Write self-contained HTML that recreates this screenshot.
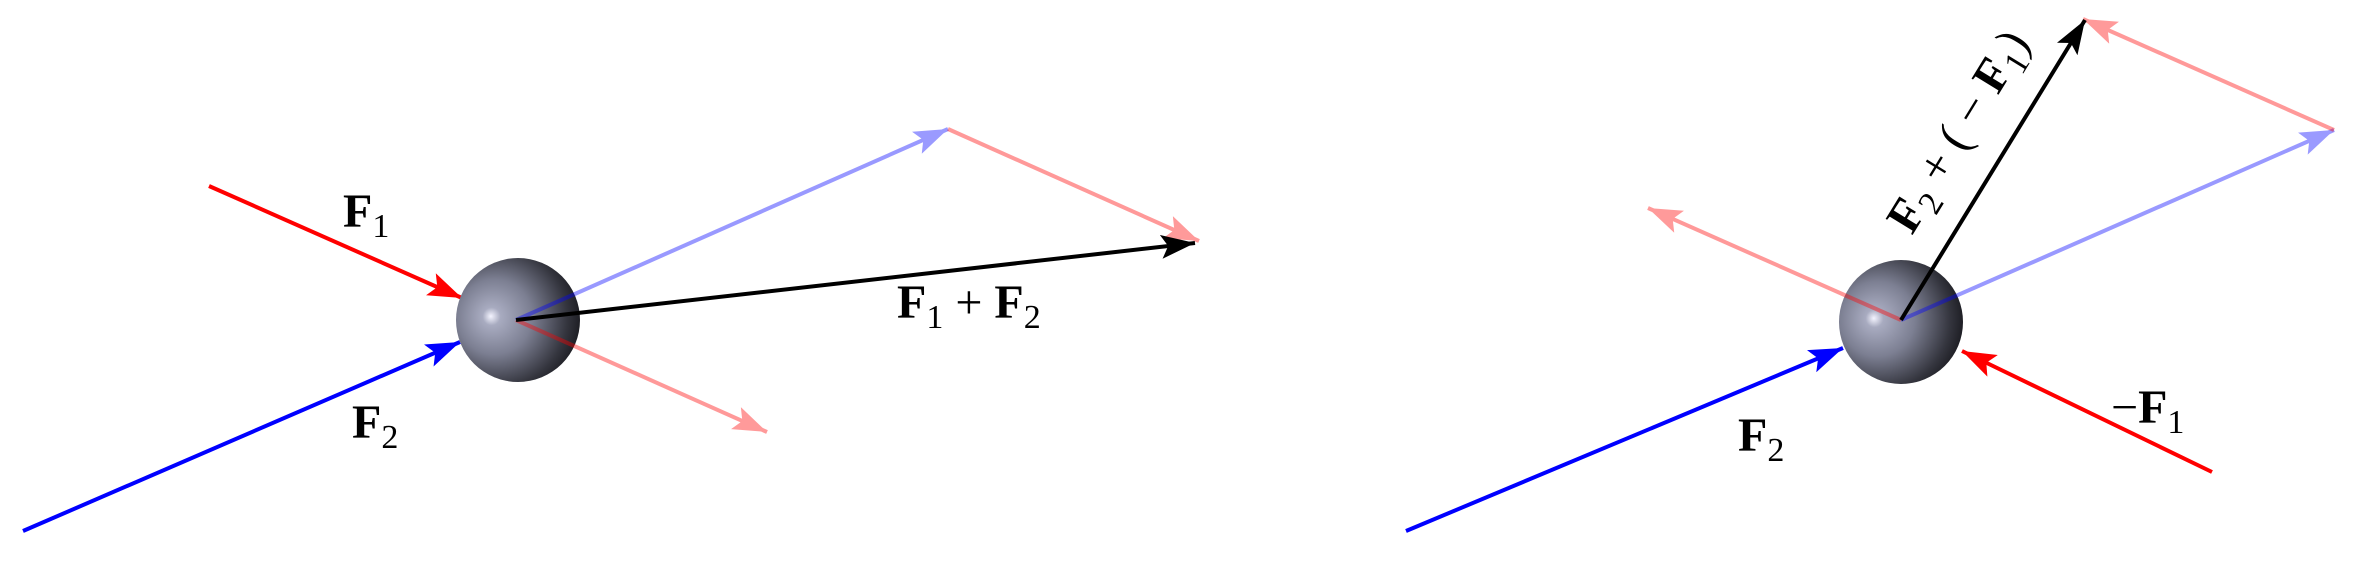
<!DOCTYPE html>
<html><head><meta charset="utf-8"><style>
html,body{margin:0;padding:0;background:#fff;}
svg{display:block;}
text{font-family:"Liberation Serif",serif;fill:#000;}
.b{font-weight:bold;}
</style></head><body>
<svg width="2358" height="564" viewBox="0 0 2358 564" xmlns="http://www.w3.org/2000/svg">
<defs>
<radialGradient id="sph" cx="0.35" cy="0.48" r="0.72" fx="0.28" fy="0.47">
<stop offset="0" stop-color="#f4f4ff"/>
<stop offset="0.1" stop-color="#a8abc0"/>
<stop offset="0.42" stop-color="#7c7f92"/>
<stop offset="0.78" stop-color="#34353e"/>
<stop offset="1" stop-color="#101014"/>
</radialGradient>
<marker id="mr" markerUnits="userSpaceOnUse" markerWidth="36" markerHeight="26" refX="34" refY="13" orient="auto"><path d="M0,1 L34,13 L0,25 L7,13 Z" fill="#ff0000"/></marker>
<marker id="mb" markerUnits="userSpaceOnUse" markerWidth="36" markerHeight="26" refX="34" refY="13" orient="auto"><path d="M0,1 L34,13 L0,25 L7,13 Z" fill="#0000ff"/></marker>
<marker id="mk" markerUnits="userSpaceOnUse" markerWidth="36" markerHeight="26" refX="34" refY="13" orient="auto"><path d="M0,1 L34,13 L0,25 L7,13 Z" fill="#000"/></marker>
<marker id="mp" markerUnits="userSpaceOnUse" markerWidth="36" markerHeight="26" refX="34" refY="13" orient="auto"><path d="M0,1 L34,13 L0,25 L7,13 Z" fill="#ff9a9a"/></marker>
<marker id="ml" markerUnits="userSpaceOnUse" markerWidth="36" markerHeight="26" refX="34" refY="13" orient="auto"><path d="M0,1 L34,13 L0,25 L7,13 Z" fill="#9a9aff"/></marker>
</defs>

<!-- LEFT -->
<line x1="209" y1="186" x2="462" y2="298" stroke="#ff0000" stroke-width="4" marker-end="url(#mr)"/>
<line x1="23" y1="531" x2="460" y2="342" stroke="#0000ff" stroke-width="4" marker-end="url(#mb)"/>
<circle cx="518" cy="320" r="62" fill="url(#sph)"/>
<line x1="516" y1="320" x2="948" y2="129" stroke="#0000ff" stroke-opacity="0.4" stroke-width="4" marker-end="url(#ml)"/>
<line x1="948" y1="129" x2="1199" y2="241" stroke="#ff0000" stroke-opacity="0.4" stroke-width="4" marker-end="url(#mp)"/>
<line x1="516" y1="320" x2="767" y2="432" stroke="#ff0000" stroke-opacity="0.4" stroke-width="4" marker-end="url(#mp)"/>
<line x1="516" y1="320" x2="1195" y2="243" stroke="#000" stroke-width="4" marker-end="url(#mk)"/>
<text x="343" y="227" font-size="48"><tspan class="b">F</tspan><tspan font-size="34" dy="10">1</tspan></text>
<text x="352" y="438" font-size="48"><tspan class="b">F</tspan><tspan font-size="34" dy="10">2</tspan></text>
<text x="897" y="318" font-size="48"><tspan class="b">F</tspan><tspan font-size="34" dy="10">1</tspan><tspan dy="-10"> + </tspan><tspan class="b">F</tspan><tspan font-size="34" dy="10">2</tspan></text>

<!-- RIGHT -->
<line x1="1406" y1="531" x2="1843" y2="348" stroke="#0000ff" stroke-width="4" marker-end="url(#mb)"/>
<line x1="2212" y1="472" x2="1962" y2="351" stroke="#ff0000" stroke-width="4" marker-end="url(#mr)"/>
<circle cx="1901" cy="322" r="62" fill="url(#sph)"/>
<line x1="1901" y1="320" x2="2334" y2="130" stroke="#0000ff" stroke-opacity="0.4" stroke-width="4" marker-end="url(#ml)"/>
<line x1="2334" y1="130" x2="2083" y2="19" stroke="#ff0000" stroke-opacity="0.4" stroke-width="4" marker-end="url(#mp)"/>
<line x1="1901" y1="320" x2="1648" y2="208" stroke="#ff0000" stroke-opacity="0.4" stroke-width="4" marker-end="url(#mp)"/>
<line x1="1901" y1="320" x2="2085" y2="20" stroke="#000" stroke-width="4" marker-end="url(#mk)"/>
<text x="1738" y="451" font-size="48"><tspan class="b">F</tspan><tspan font-size="34" dy="10">2</tspan></text>
<text x="2111" y="423" font-size="48"><tspan>−</tspan><tspan class="b">F</tspan><tspan font-size="34" dy="10">1</tspan></text>
<text transform="translate(1912,236) rotate(-58.5)" font-size="48"><tspan class="b">F</tspan><tspan font-size="34" dy="10">2</tspan><tspan dy="-10"> +  ( − </tspan><tspan class="b">F</tspan><tspan font-size="34" dy="10">1</tspan><tspan dy="-10">)</tspan></text>
</svg>
</body></html>
